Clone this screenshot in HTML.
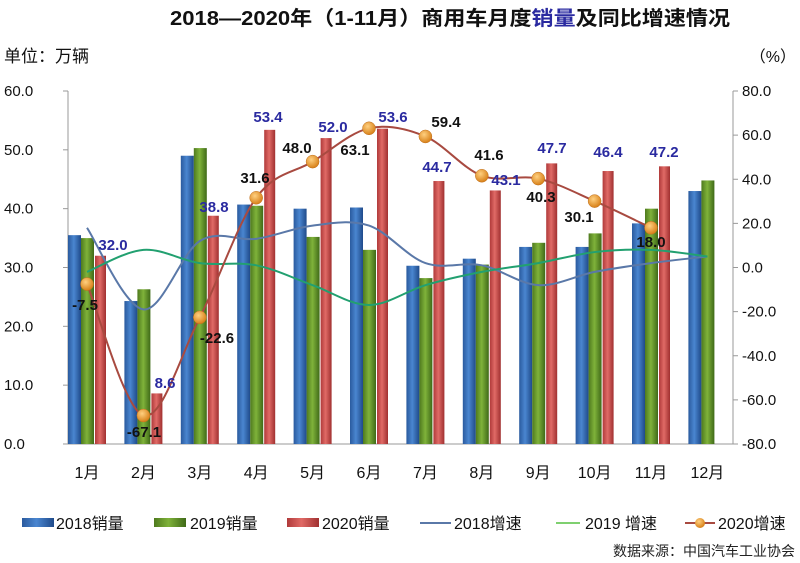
<!DOCTYPE html>
<html><head><meta charset="utf-8">
<style>
html,body{margin:0;padding:0;background:#fff;width:800px;height:563px;overflow:hidden}
svg text{font-family:"Liberation Sans","Noto Sans CJK SC",sans-serif}
</style></head>
<body>
<svg id="s" width="800" height="563" xmlns="http://www.w3.org/2000/svg">
<defs>
<linearGradient id="gb" x1="0" x2="1" y1="0" y2="0"><stop offset="0" stop-color="#2a5a9e"/><stop offset="0.45" stop-color="#4a86d0"/><stop offset="1" stop-color="#1f4a8a"/></linearGradient>
<linearGradient id="gg" x1="0" x2="1" y1="0" y2="0"><stop offset="0" stop-color="#4e7a1e"/><stop offset="0.45" stop-color="#7fb23a"/><stop offset="1" stop-color="#3f6a18"/></linearGradient>
<linearGradient id="gr" x1="0" x2="1" y1="0" y2="0"><stop offset="0" stop-color="#b03a3a"/><stop offset="0.45" stop-color="#e06a66"/><stop offset="1" stop-color="#a03030"/></linearGradient>
<radialGradient id="dot" cx="0.4" cy="0.35" r="0.7"><stop offset="0" stop-color="#ffd080"/><stop offset="1" stop-color="#d47a10"/></radialGradient>
</defs>
<text x="170" y="25" font-size="20" font-weight="bold" fill="#111" textLength="560" lengthAdjust="spacingAndGlyphs">2018—2020年（1-11月）商用车月度<tspan fill="#2a2aa0">销量</tspan>及同比增速情况</text>
<text x="4" y="62" font-size="17" fill="#111">单位：万辆</text>
<text x="796" y="62" font-size="16" fill="#111" text-anchor="end">（%）</text>
<g id="g"></g>
</svg>
<script>
var g=document.getElementById('g'),h='';
function Y(v){return 444-v*5.883}
function R(v){return 267.5-v*2.206}
function C(i){return 87+i*56.4}
var b18=[35.5,24.3,49,40.7,40,40.2,30.3,31.5,33.5,33.5,37.5,43];
var b19=[35,26.3,50.3,40.5,35.2,33,28.2,30.5,34.2,35.8,40,44.8];
var b20=[32.0,8.6,38.8,53.4,52.0,53.6,44.7,43.1,47.7,46.4,47.2];
var g20=[-7.5,-67.1,-22.6,31.6,48.0,63.1,59.4,41.6,40.3,30.1,18.0];
var g18=[18,-19,12,13,19,19,2,1,-8,-2,2,5];
var g19=[-2,8,2,1,-8,-17,-8,-2,2,7,8,5];
h+='<line x1="68" y1="91" x2="68" y2="444" stroke="#999"/><line x1="733" y1="91" x2="733" y2="444" stroke="#999"/><line x1="68" y1="444" x2="733" y2="444" stroke="#999"/>';
for(var k=0;k<=6;k++){var y=91+k*58.83;
h+='<line x1="63" y1="'+y+'" x2="68" y2="'+y+'" stroke="#999"/>';
h+='<text x="4" y="'+(y+5)+'" font-size="15" fill="#111">'+(60-k*10).toFixed(1)+'</text>';}
for(var k=0;k<=8;k++){var y=91+k*44.125;
h+='<line x1="733" y1="'+y+'" x2="738" y2="'+y+'" stroke="#999"/>';
h+='<text x="742" y="'+(y+5)+'" font-size="15" fill="#111">'+(80-k*20).toFixed(1)+'</text>';}
for(var i=0;i<12;i++){var c=C(i);
h+='<rect x="'+(c-19)+'" y="'+Y(b18[i])+'" width="13" height="'+(444-Y(b18[i]))+'" fill="url(#gb)"/>';
h+='<rect x="'+(c-6)+'" y="'+Y(b19[i])+'" width="13" height="'+(444-Y(b19[i]))+'" fill="url(#gg)"/>';
if(i<11)h+='<rect x="'+(c+8)+'" y="'+Y(b20[i])+'" width="11" height="'+(444-Y(b20[i]))+'" fill="url(#gr)"/>';
h+='<text x="'+c+'" y="478" font-size="16" text-anchor="middle" fill="#111">'+(i+1)+'月</text>';}
function path(a,f){var p=a.map(function(v,i){return [C(i),f(v)]});var d='M'+p[0][0]+','+p[0][1];
for(var i=0;i<p.length-1;i++){var p0=p[i-1]||p[i],p1=p[i],p2=p[i+1],p3=p[i+2]||p2;
d+=' C'+(p1[0]+(p2[0]-p0[0])/6)+','+(p1[1]+(p2[1]-p0[1])/6)+' '+(p2[0]-(p3[0]-p1[0])/6)+','+(p2[1]-(p3[1]-p1[1])/6)+' '+p2[0]+','+p2[1];}return d;}
h+='<path d="'+path(g18,R)+'" fill="none" stroke="#5a78a8" stroke-width="2"/>';
h+='<path d="'+path(g19,R)+'" fill="none" stroke="#22a070" stroke-width="2"/>';
h+='<path d="'+path(g20,R)+'" fill="none" stroke="#a84a40" stroke-width="2"/>';
g20.forEach(function(v,i){h+='<circle cx="'+C(i)+'" cy="'+R(v)+'" r="6.5" fill="url(#dot)" stroke="#c07020" stroke-width="0.5"/>';});
var L1=[[113,250,'32.0'],[165,388,'8.6'],[214,212,'38.8'],[268,122,'53.4'],[333,132,'52.0'],[393,122,'53.6'],[437,172,'44.7'],[506,185,'43.1'],[552,153,'47.7'],[608,157,'46.4'],[664,157,'47.2']];
L1.forEach(function(l){h+='<text x="'+l[0]+'" y="'+l[1]+'" font-size="15" font-weight="bold" text-anchor="middle" fill="#2a2aa0">'+l[2]+'</text>';});
var L2=[[85,310,'-7.5'],[144,437,'-67.1'],[217,343,'-22.6'],[255,183,'31.6'],[297,153,'48.0'],[355,155,'63.1'],[446,127,'59.4'],[489,160,'41.6'],[541,202,'40.3'],[579,222,'30.1'],[651,247,'18.0']];
L2.forEach(function(l){h+='<text x="'+l[0]+'" y="'+l[1]+'" font-size="15" font-weight="bold" text-anchor="middle" fill="#111">'+l[2]+'</text>';});
var ly=523;
h+='<rect x="22" y="'+(ly-5)+'" width="32" height="9" fill="url(#gb)"/><text x="56" y="'+(ly+6)+'" font-size="16" fill="#111">2018销量</text>';
h+='<rect x="154" y="'+(ly-5)+'" width="32" height="9" fill="url(#gg)"/><text x="190" y="'+(ly+6)+'" font-size="16" fill="#111">2019销量</text>';
h+='<rect x="287" y="'+(ly-5)+'" width="32" height="9" fill="url(#gr)"/><text x="322" y="'+(ly+6)+'" font-size="16" fill="#111">2020销量</text>';
h+='<line x1="420" y1="'+ly+'" x2="451" y2="'+ly+'" stroke="#5a78a8" stroke-width="2"/><text x="454" y="'+(ly+6)+'" font-size="16" fill="#111">2018增速</text>';
h+='<line x1="556" y1="'+ly+'" x2="580" y2="'+ly+'" stroke="#7fd070" stroke-width="2"/><text x="585" y="'+(ly+6)+'" font-size="16" fill="#111">2019 增速</text>';
h+='<line x1="685" y1="'+ly+'" x2="715" y2="'+ly+'" stroke="#a84a40" stroke-width="2"/><circle cx="700" cy="'+ly+'" r="5" fill="url(#dot)"/><text x="718" y="'+(ly+6)+'" font-size="16" fill="#111">2020增速</text>';
h+='<text x="795" y="556" font-size="14" text-anchor="end" fill="#222">数据来源：中国汽车工业协会</text>';
g.innerHTML=h;
</script>
</body></html>
